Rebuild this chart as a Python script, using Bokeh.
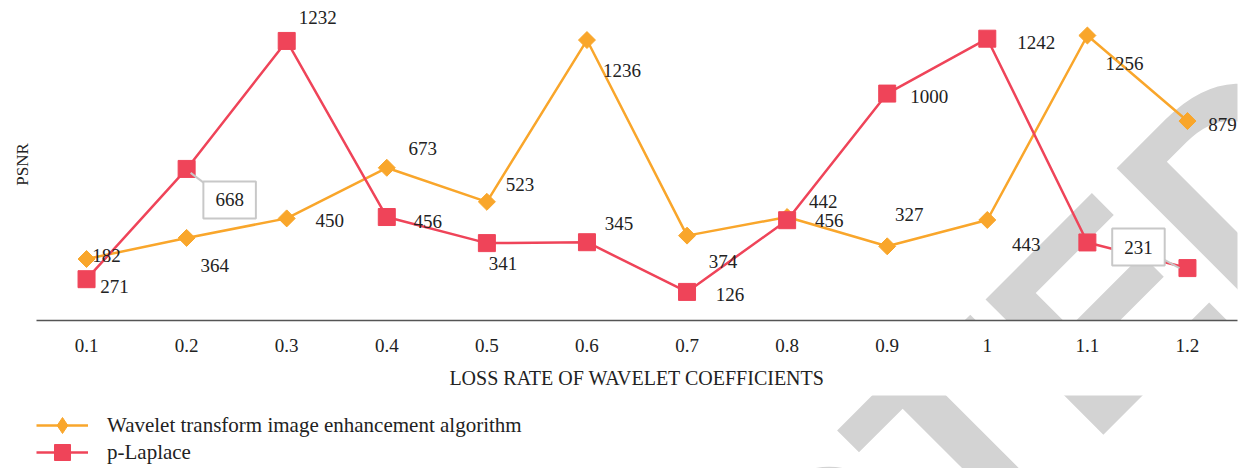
import math
from bokeh.plotting import figure
from bokeh.layouts import column
from bokeh.models import (ColumnDataSource, FactorRange, Range1d, Legend, LegendItem,
                          Label, LabelSet, FixedTicker)
from bokeh.transform import dodge
from bokeh.core.properties import value
from bokeh.embed import file_html
from bokeh.resources import INLINE

# ---------------- data ----------------
categories = ["0.1", "0.2", "0.3", "0.4", "0.5", "0.6", "0.7", "0.8", "0.9", "1", "1.1", "1.2"]
wavelet = [271, 364, 450, 673, 523, 1236, 374, 456, 327, 443, 1256, 879]
plaplace = [182, 668, 1232, 456, 341, 345, 126, 442, 1000, 1242, 344, 231]
wavelet_labels = ["182", "364", "450", "673", "523", "1236", "374", "456", "327", "443", "1256", "879"]
plaplace_labels = ["271", "668", "1232", "456", "341", "345", "126", "442", "1000", "1242", "", "231"]
series_names = ["Wavelet transform image enhancement algorithm", "p-Laplace"]

# ---------------- style ----------------
ORANGE = "#F9A62B"
RED = "#EF4459"
TEXT = "#222222"
FONT = "Liberation Serif"
WM_COLOR = "#D3D3D3"
Y_END = 1375
FRAME_H = 312
FRAME_W = 1201
STRIP_H = 73

# label offsets in screen pixels (dx, dy; dy positive = down)
w_off = [(20, -4), (28, 28), (43, 2), (36, -19), (33, -17), (35, 30), (36, 26),
         (42, 3), (22, -32), (39, 25), (37, 28), (35, 3)]
r_off = [(28, 7), (43, 31), (31, -23), (41, 4), (16, 20), (32, -19), (43, 3),
         (36, -19), (42, 3), (49, 4), (0, 0), (-49, -21)]
r_callout = [False, True, False, False, False, False, False, False, False, False, False, True]

p = figure(frame_width=FRAME_W, frame_height=FRAME_H,
           x_range=FactorRange(*categories, range_padding=0),
           y_range=Range1d(0, Y_END),
           output_backend="svg", toolbar_location=None,
           min_border_left=36, min_border_right=15, min_border_top=8, min_border_bottom=75)
p.outline_line_color = None
p.grid.visible = False

# watermark (decoration), beneath the data marks
px = FRAME_H / Y_END
p.add_layout(Label(x=11.5 + 125 / 100.08, y=214 / px, text="RETRACTED",
                   angle=math.pi / 4, text_align="right", text_baseline="alphabetic",
                   text_font="Liberation Sans", text_font_style="bold", text_font_size="278px",
                   text_color=WM_COLOR, level="underlay"))

src = ColumnDataSource(dict(x=categories, w=wavelet, r=plaplace))

p.line(x="x", y="w", source=src, line_color=ORANGE, line_width=2.5)
p.scatter(x="x", y="w", source=src, marker="square", angle=math.pi / 4, size=12,
          fill_color=ORANGE, line_color=ORANGE)
p.line(x="x", y="r", source=src, line_color=RED, line_width=2.5)
p.scatter(x="x", y="r", source=src, marker="square", size=17,
          fill_color=RED, line_color=RED)

# plain labels / callouts
lx, ly, lt, ldx, ldy = [], [], [], [], []
for c, v, t, (dx, dy) in zip(categories, wavelet, wavelet_labels, w_off):
    lx.append(c); ly.append(v); lt.append(t); ldx.append(dx); ldy.append(-dy)
cx, cy, ct, cdx, cdy = [], [], [], [], []
for c, v, t, (dx, dy), co in zip(categories, plaplace, plaplace_labels, r_off, r_callout):
    if co:
        cx.append(c); cy.append(v); ct.append(t); cdx.append(dx); cdy.append(dy)
    elif t:
        lx.append(c); ly.append(v); lt.append(t); ldx.append(dx); ldy.append(-dy)

# callout tails
c0 = ColumnDataSource(dict(x=[cx[0]], y0=[cy[0] - 4 / px], y1=[cy[0] - 16 / px]))
p.segment(x0=dodge("x", 0.04, range=p.x_range), y0="y0",
          x1=dodge("x", 0.2, range=p.x_range), y1="y1", source=c0,
          line_color="#C8C8C8", line_width=2)
c1 = ColumnDataSource(dict(x=[cx[1]], y0=[cy[1] + 10 / px], y1=[cy[1]]))
p.segment(x0=dodge("x", -0.26, range=p.x_range), y0="y0",
          x1=dodge("x", -0.08, range=p.x_range), y1="y1", source=c1,
          line_color="#C8C8C8", line_width=2)

call_src = ColumnDataSource(dict(x=cx, y=cy, t=ct, dx=cdx, dy=cdy))
p.text(x="x", y="y", text="t", x_offset="dx", y_offset="dy", source=call_src,
       text_font=value(FONT), text_font_size="19px", text_color=TEXT,
       text_align="center", text_baseline="middle",
       background_fill_color="white", border_line_color="#C8C8C8", border_line_width=2,
       padding=(12, 12))

lab_src = ColumnDataSource(dict(x=lx, y=ly, t=lt, dx=ldx, dy=ldy))
p.add_layout(LabelSet(x="x", y="y", text="t", x_offset="dx", y_offset="dy", source=lab_src,
                      text_font=value(FONT), text_font_size=value("19px"), text_color=TEXT,
                      text_align="center", text_baseline="middle"))

# axes
xa = p.xaxis[0]
xa.axis_line_color = "#555555"
xa.axis_line_width = 1.5
xa.major_tick_line_color = None
xa.minor_tick_line_color = None
xa.major_label_text_font = FONT
xa.major_label_text_font_size = "19px"
xa.major_label_text_color = TEXT
xa.major_label_standoff = 12
xa.axis_label = "LOSS RATE OF WAVELET COEFFICIENTS"
xa.axis_label_text_font = FONT
xa.axis_label_text_font_style = "normal"
xa.axis_label_text_font_size = "20px"
xa.axis_label_text_color = TEXT
xa.axis_label_standoff = 12

ya = p.yaxis[0]
ya.ticker = FixedTicker(ticks=[])
ya.major_label_text_font_size = "0px"
ya.axis_line_color = None
ya.major_tick_line_color = None
ya.minor_tick_line_color = None
ya.major_label_standoff = 0
ya.axis_label = "PSNR"
ya.axis_label_text_font = FONT
ya.axis_label_text_font_style = "normal"
ya.axis_label_text_font_size = "17px"
ya.axis_label_text_color = TEXT
ya.axis_label_standoff = 5

# ---------------- legend strip (second figure, pixel coordinates) ----------------
lf = figure(width=1252, height=STRIP_H, x_range=Range1d(0, 1252), y_range=Range1d(0, STRIP_H),
            x_axis_type=None, y_axis_type=None, min_border=0,
            output_backend="svg", toolbar_location=None)
lf.outline_line_color = None
lf.grid.visible = False
lf.add_layout(Label(x=1312, y=362, text="RETRACTED",
                    angle=math.pi / 4, text_align="right", text_baseline="alphabetic",
                    text_font="Liberation Sans", text_font_style="bold", text_font_size="278px",
                    text_color=WM_COLOR, level="underlay"))

nan = float("nan")
dummy = ColumnDataSource(dict(x=[nan], y=[nan]))
wl = lf.line(x="x", y="y", source=dummy, line_color=ORANGE, line_width=2.5)
wd = lf.scatter(x="x", y="y", source=dummy, marker="diamond", size=17,
                fill_color=ORANGE, line_color=ORANGE)
rl = lf.line(x="x", y="y", source=dummy, line_color=RED, line_width=2.5)
rd = lf.scatter(x="x", y="y", source=dummy, marker="square", size=17,
                fill_color=RED, line_color=RED)

legend_kw = dict(orientation="vertical", glyph_width=52, glyph_height=40, label_standoff=19,
                 label_text_font=FONT, label_text_font_size="21px", label_text_color=TEXT,
                 border_line_color=None, background_fill_alpha=0, margin=0, padding=0)
lf.add_layout(Legend(items=[LegendItem(label=series_names[0], renderers=[wl, wd])],
                     location=(0, 23), **legend_kw))
lf.add_layout(Legend(items=[LegendItem(label=series_names[1], renderers=[rl, rd])],
                     location=(0, -4), **legend_kw))

layout = column(p, lf, spacing=0)
open("out.html", "w").write(file_html(layout, INLINE))
